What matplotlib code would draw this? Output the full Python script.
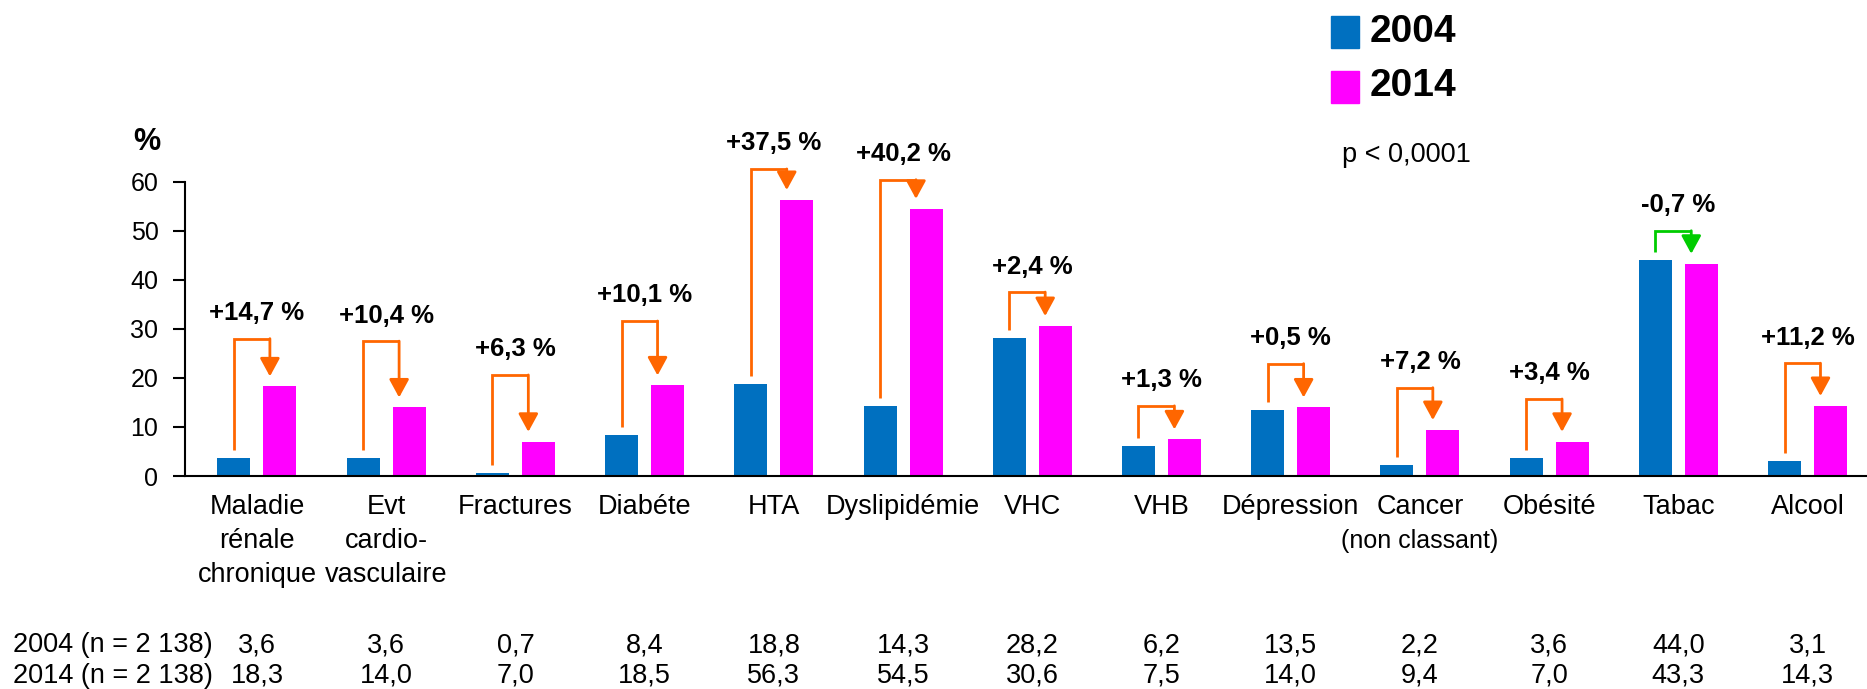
import numpy as np
import matplotlib
matplotlib.use("Agg")
import matplotlib.pyplot as plt
import matplotlib.transforms as mtransforms
from matplotlib.patches import Rectangle

plt.rcParams['font.family'] = ['Liberation Sans', 'DejaVu Sans']

# data
categories = ["Maladie\nrénale\nchronique", "Evt\ncardio-\nvasculaire", "Fractures",
              "Diabéte", "HTA", "Dyslipidémie", "VHC", "VHB", "Dépression",
              "Cancer\n(non classant)", "Obésité", "Tabac", "Alcool"]
v2004 = [3.6, 3.6, 0.7, 8.4, 18.8, 14.3, 28.2, 6.2, 13.5, 2.2, 3.6, 44.0, 3.1]
v2014 = [18.3, 14.0, 7.0, 18.5, 56.3, 54.5, 30.6, 7.5, 14.0, 9.4, 7.0, 43.3, 14.3]
changes = ["+14,7 %", "+10,4 %", "+6,3 %", "+10,1 %", "+37,5 %", "+40,2 %", "+2,4 %",
           "+1,3 %", "+0,5 %", "+7,2 %", "+3,4 %", "-0,7 %", "+11,2 %"]
row_labels = ["2004 (n = 2 138)", "2014 (n = 2 138)"]
years = ["2004", "2014"]

# layout of the change brackets (height above the 2014 bar, in %)
bracket_gap = [9.7, 13.5, 13.6, 13.1, 6.3, 5.9, 6.9, 6.8, 8.9, 8.6, 8.7, 6.7, 8.7]

BLUE = '#0070C0'
PINK = '#FF00FF'
ORANGE = '#FF6600'
GREEN = '#00CC00'

W, H = 1867, 689
fig = plt.figure(figsize=(W / 100, H / 100), dpi=100)
ax = fig.add_axes([185 / W, 1 - 476 / H, 1 - 185 / W, (476 - 181.7) / H])

x = np.arange(len(categories))
bw = 0.255
off = 0.178
ax.bar(x - off, v2004, bw, color=BLUE)
ax.bar(x + off, v2014, bw, color=PINK)

ax.set_xlim(-0.557, 12.46)
ax.set_ylim(0, 60)
ax.set_yticks(range(0, 61, 10))
ax.set_xticks([])
ax.spines[['top', 'right']].set_visible(False)
for s in ('left', 'bottom'):
    ax.spines[s].set_linewidth(1.5)
ax.tick_params(axis='y', length=8.6, width=1.5, pad=10.5, labelsize=18)

# brackets with arrows
for i in range(len(categories)):
    c = GREEN if changes[i].startswith('-') else ORANGE
    xl = x[i] - off
    xr = x[i] + 0.1
    bottom = v2004[i] + 1.6
    top = v2014[i] + bracket_gap[i]
    tip = v2014[i] + 2.0
    ax.plot([xl, xl, xr], [bottom, top, top], color=c, lw=2, clip_on=False,
            solid_joinstyle='miter', solid_capstyle='butt')
    ax.annotate('', xy=(xr, tip), xytext=(xr, top), annotation_clip=False,
                arrowprops=dict(arrowstyle='-|>,head_length=0.55,head_width=0.3',
                                mutation_scale=20, color=c, lw=2,
                                shrinkA=0, shrinkB=0))
    ax.text(x[i], top + 5.2, changes[i], ha='center', va='center',
            fontsize=18.5, fontweight='bold', clip_on=False)

# category labels, line by line
trans = mtransforms.blended_transform_factory(ax.transData, fig.transFigure)
for i, lab in enumerate(categories):
    for k, line in enumerate(lab.split('\n')):
        size = 18 if line.startswith('(') else 19.5
        fig.text(x[i], 1 - (514 + 34 * k) / H, line, transform=trans,
                 ha='center', va='baseline', fontsize=size)

# value table under the chart
for r, vals in enumerate([v2004, v2014]):
    yb = 1 - (652 + 31 * r) / H
    fig.text(13 / W, yb, row_labels[r], ha='left', va='baseline', fontsize=19.5)
    for i, v in enumerate(vals):
        fig.text(x[i], yb, f"{v:.1f}".replace('.', ','), transform=trans,
                 ha='center', va='baseline', fontsize=19.5)

# axis unit, legend and p-value
fig.text(147 / W, 1 - 142 / H, '%', ha='center', va='center',
         fontsize=22, fontweight='bold')
for k, (yr, c) in enumerate(zip(years, [BLUE, PINK])):
    y0 = 16 + 54.5 * k
    fig.patches.append(Rectangle((1331 / W, 1 - (y0 + 32) / H), 28 / W, 32 / H,
                                 transform=fig.transFigure, color=c))
    fig.text(1370 / W, 1 - (y0 + 16) / H, yr, ha='left', va='center',
             fontsize=28, fontweight='bold')
fig.text(1342 / W, 1 - 155 / H, 'p < 0,0001', ha='left', va='center', fontsize=19.5)

fig.savefig('out.png', dpi=100)
